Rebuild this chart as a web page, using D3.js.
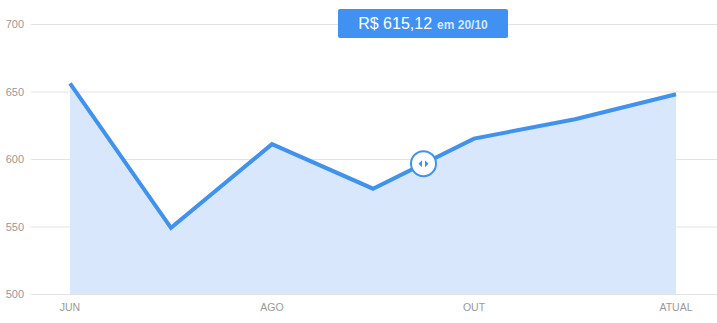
<!DOCTYPE html>
<html><head><meta charset="utf-8">
<script src="https://cdn.jsdelivr.net/npm/d3@7"></script>
<style>body{margin:0;background:#fff;}svg{display:block;font-family:"Liberation Sans",Arial,sans-serif;}</style>
</head><body><svg id="c" width="717" height="323"></svg>
<script>
const categories = ["JUN","","AGO","","OUT","","ATUAL"];
const values = [656, 549, 611, 578, 615.12, 629.5, 648];
const yTicks = [500, 550, 600, 650, 700];
const tooltipValue = "R$ 615,12";
const tooltipDate = "em 20/10";
const handleAt = 3.5;

const svg = d3.select("#c");
const x = d3.scaleLinear().domain([0, values.length - 1]).range([70, 676]);
const y = d3.scaleLinear().domain([500, 700]).range([294, 24]);

// grid
svg.append("g").selectAll("line").data(yTicks).join("line")
  .attr("x1", 31).attr("x2", 717)
  .attr("y1", d => y(d) + 0.5).attr("y2", d => y(d) + 0.5)
  .attr("stroke", "#e3e3e3").attr("stroke-width", 1);
svg.append("g").selectAll("text").data(yTicks).join("text")
  .attr("x", 24).attr("y", d => y(d) + 4)
  .attr("text-anchor", "end").attr("fill", "#999999").attr("font-size", 11)
  .text(d => d);

// area
const idx = d3.range(values.length);
svg.append("path").datum(idx)
  .attr("d", d3.area().x(i => x(i)).y0(y(500)).y1(i => y(values[i])))
  .attr("fill", "#d8e7fc");
svg.append("path").datum(idx)
  .attr("d", d3.line().x(i => x(i)).y(i => y(values[i])))
  .attr("fill", "none").attr("stroke", "#4192ec").attr("stroke-width", 4)
  .attr("stroke-linejoin", "miter");

// x labels
svg.append("g").selectAll("text").data(idx.filter(i => categories[i])).join("text")
  .attr("x", i => x(i)).attr("y", 311)
  .attr("text-anchor", "middle").attr("fill", "#999999").attr("font-size", 10.5)
  .text(i => categories[i]);

// handle
const hv = (values[3] + values[4]) / 2;
const hx = x(handleAt), hy = y(hv);
const h = svg.append("g").attr("transform", `translate(${hx},${hy})`);
h.append("circle").attr("r", 12.5).attr("fill", "#fff").attr("stroke", "#4192ec").attr("stroke-width", 2);
h.append("path").attr("d", "M-1.5,-3.5 L-5,0 L-1.5,3.5 Z").attr("fill", "#4192ec");
h.append("path").attr("d", "M1.5,-3.5 L5,0 L1.5,3.5 Z").attr("fill", "#4192ec");

// tooltip
const tg = svg.append("g");
tg.append("rect").attr("x", 338).attr("y", 9).attr("width", 170).attr("height", 29).attr("rx", 2)
  .attr("fill", "#4191f3");
const t = tg.append("text").attr("x", 423).attr("y", 29).attr("text-anchor", "middle");
t.append("tspan").attr("fill", "#fff").attr("font-size", 16).text(tooltipValue);
t.append("tspan").attr("fill", "#d4e5fb").attr("font-size", 12).attr("font-weight", "bold").attr("dx", 5).text(tooltipDate);
</script></body></html>
